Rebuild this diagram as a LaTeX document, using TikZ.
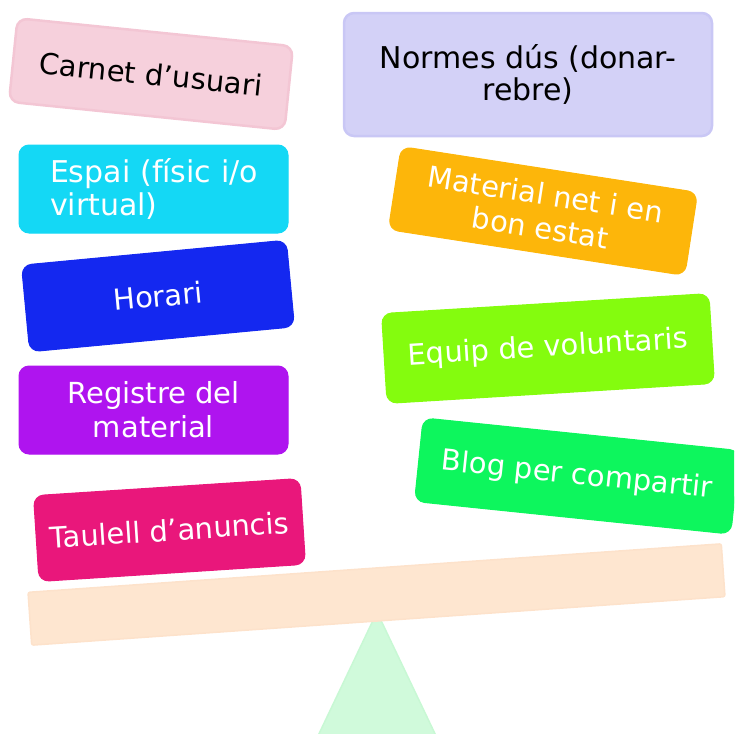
\documentclass[tikz,border=0pt]{standalone}
\usepackage{fontspec}
\setmainfont{DejaVu Sans}
\definecolor{cPink}{RGB}{246,208,220}
\definecolor{cPinkB}{RGB}{243,198,212}
\definecolor{cLav}{RGB}{211,209,247}
\definecolor{cLavB}{RGB}{201,199,245}
\definecolor{cCyan}{RGB}{20,216,245}
\definecolor{cBlue}{RGB}{20,40,240}
\definecolor{cPurple}{RGB}{175,20,239}
\definecolor{cMagenta}{RGB}{233,23,123}
\definecolor{cOrange}{RGB}{253,182,10}
\definecolor{cLime}{RGB}{132,252,14}
\definecolor{cGreen}{RGB}{13,246,93}
\definecolor{cPlank}{RGB}{254,230,208}
\definecolor{cPlankB}{RGB}{253,226,203}
\definecolor{cTri}{RGB}{208,250,219}
\definecolor{cTriB}{RGB}{200,248,212}
\tikzset{
  box/.style={rounded corners=10pt, draw=#1, fill=#1, line width=1pt,
    text=white, align=center, inner sep=0pt,
    font=\fontsize{29}{34}\selectfont},
  lightbox/.style={rounded corners=10pt, line width=2.5pt, text=black,
    align=center, inner sep=0pt, font=\fontsize{29}{34}\selectfont}
}
\begin{document}
\begin{tikzpicture}[x=1pt,y=-1pt]
\useasboundingbox (0,0) rectangle (734,734);
\clip (0,0) rectangle (734,734);
% fulcrum
\coordinate (apex) at (377,612);
\coordinate (bl) at (316,740);
\coordinate (br) at (438,740);
\draw[draw=cTriB, fill=cTri, line width=1.5pt, line join=round] (apex) -- (br) -- (bl) -- cycle;
% plank
\node[draw=cPlankB, fill=cPlank, line width=1.5pt, rounded corners=2pt,
  minimum width=695pt, minimum height=53pt, rotate=4] (plank) at (376.5,594.5) {};
% left column
\node[lightbox, draw=cPinkB, fill=cPink, minimum width=277pt, minimum height=84pt, rotate=-5.8]
  (carnet) at (151,74) {Carnet d’usuari};
\node[box=cCyan, align=left, text width=207pt, inner xsep=31pt, minimum height=88pt,
  font=\fontsize{30}{33}\selectfont]
  (espai) at (153.5,189) {\mbox{Espai (físic i/o}\\\mbox{virtual)}};
\node[box=cBlue, minimum width=266pt, minimum height=87pt, rotate=5.4]
  (horari) at (158,296) {Horari};
\node[box=cPurple, minimum width=269pt, minimum height=88pt]
  (registre) at (153.5,410) {Registre del\\material};
\node[box=cMagenta, minimum width=267pt, minimum height=86pt, rotate=3.7]
  (taulell) at (169.5,530) {Taulell d’anuncis};
% right column
\node[lightbox, draw=cLavB, fill=cLav, minimum width=368pt, minimum height=123pt,
  font=\fontsize{30}{32}\selectfont]
  (normes) at (528,74.5) {Normes dús (donar-\\rebre)};
\node[box=cOrange, minimum width=300pt, minimum height=84pt, rotate=-8.8]
  (material) at (543,211) {Material net i en\\bon estat};
\node[box=cLime, minimum width=328pt, minimum height=90pt, rotate=3.5]
  (equip) at (548,348.5) {Equip de voluntaris};
\node[box=cGreen, minimum width=318pt, minimum height=84pt, rotate=-5.9]
  (blog) at (577,476) {Blog per compartir};
\end{tikzpicture}
\end{document}
